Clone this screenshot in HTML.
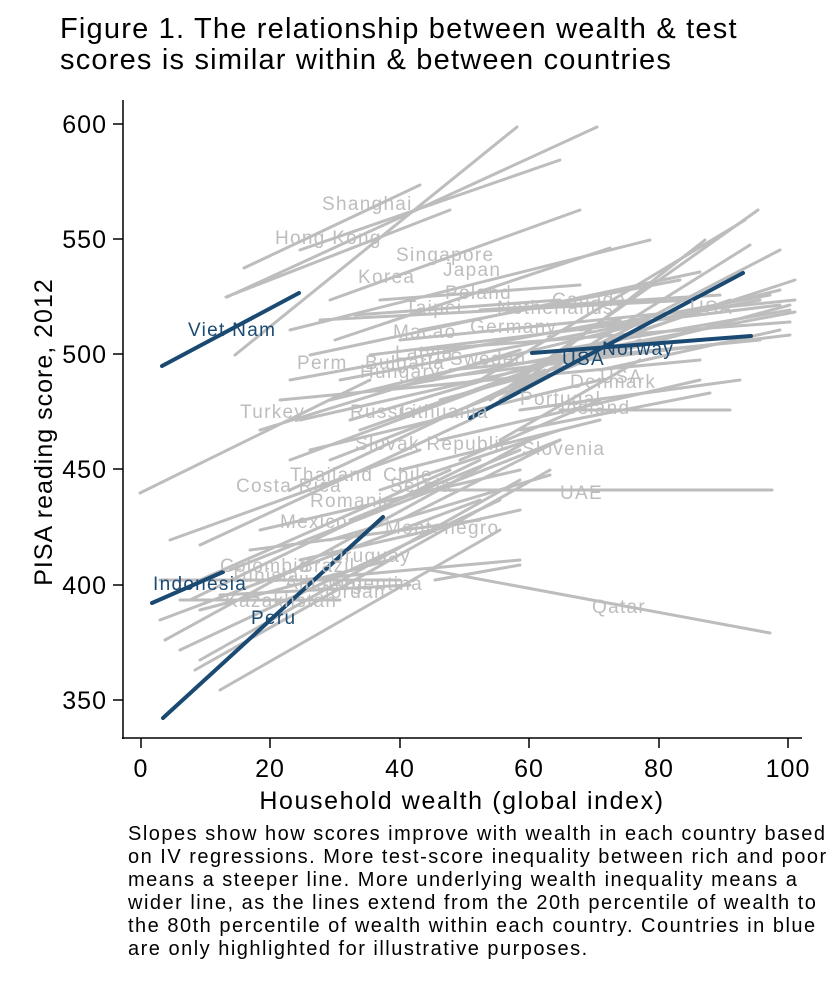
<!DOCTYPE html>
<html><head><meta charset="utf-8"><style>
html,body{margin:0;padding:0;background:#fff;}
body{width:833px;height:1000px;overflow:hidden;position:relative;font-family:"Liberation Sans",Arial,sans-serif;}
.t{position:absolute;left:60px;top:14px;font-size:29px;line-height:31px;color:#000;letter-spacing:1.2px;white-space:nowrap;}
.c{position:absolute;left:128px;top:823px;font-size:20px;line-height:23px;color:#000;white-space:nowrap;letter-spacing:1.5px;}
</style></head><body>
<div class="t">Figure 1. The relationship between wealth &amp; test<br>scores is similar within &amp; between countries</div>
<svg width="833" height="1000" style="position:absolute;left:0;top:0" font-family="Liberation Sans, Arial, sans-serif">
<g stroke="#bdbdbd" stroke-width="3" stroke-linecap="round" fill="none">
<line x1="235" y1="355" x2="517" y2="127"/>
<line x1="227" y1="297" x2="597" y2="127"/>
<line x1="244" y1="268" x2="420" y2="185"/>
<line x1="226" y1="297" x2="450" y2="210"/>
<line x1="300" y1="250" x2="560" y2="160"/>
<line x1="330" y1="300" x2="580" y2="210"/>
<line x1="290" y1="330" x2="650" y2="240"/>
<line x1="310" y1="355" x2="700" y2="272"/>
<line x1="335" y1="340" x2="610" y2="248"/>
<line x1="140" y1="493" x2="370" y2="380"/>
<line x1="290" y1="380" x2="620" y2="320"/>
<line x1="355" y1="315" x2="560" y2="300"/>
<line x1="320" y1="320" x2="690" y2="300"/>
<line x1="330" y1="400" x2="780" y2="290"/>
<line x1="340" y1="380" x2="760" y2="300"/>
<line x1="360" y1="430" x2="730" y2="300"/>
<line x1="300" y1="420" x2="700" y2="330"/>
<line x1="370" y1="355" x2="780" y2="305"/>
<line x1="400" y1="340" x2="795" y2="300"/>
<line x1="380" y1="390" x2="795" y2="312"/>
<line x1="420" y1="350" x2="790" y2="322"/>
<line x1="420" y1="380" x2="790" y2="335"/>
<line x1="450" y1="370" x2="760" y2="340"/>
<line x1="440" y1="400" x2="790" y2="305"/>
<line x1="480" y1="380" x2="745" y2="220"/>
<line x1="500" y1="400" x2="705" y2="240"/>
<line x1="470" y1="420" x2="750" y2="245"/>
<line x1="490" y1="400" x2="758" y2="210"/>
<line x1="510" y1="390" x2="780" y2="250"/>
<line x1="520" y1="370" x2="795" y2="280"/>
<line x1="520" y1="410" x2="740" y2="380"/>
<line x1="560" y1="410" x2="730" y2="410"/>
<line x1="520" y1="430" x2="710" y2="393"/>
<line x1="280" y1="400" x2="700" y2="360"/>
<line x1="290" y1="460" x2="560" y2="360"/>
<line x1="290" y1="490" x2="545" y2="370"/>
<line x1="310" y1="450" x2="600" y2="380"/>
<line x1="200" y1="545" x2="470" y2="420"/>
<line x1="170" y1="540" x2="420" y2="450"/>
<line x1="200" y1="580" x2="450" y2="470"/>
<line x1="190" y1="600" x2="480" y2="460"/>
<line x1="160" y1="620" x2="480" y2="500"/>
<line x1="165" y1="640" x2="530" y2="440"/>
<line x1="180" y1="650" x2="500" y2="500"/>
<line x1="200" y1="660" x2="520" y2="480"/>
<line x1="195" y1="670" x2="550" y2="470"/>
<line x1="220" y1="690" x2="500" y2="530"/>
<line x1="230" y1="570" x2="560" y2="440"/>
<line x1="250" y1="550" x2="480" y2="520"/>
<line x1="260" y1="530" x2="520" y2="470"/>
<line x1="220" y1="595" x2="410" y2="585"/>
<line x1="160" y1="580" x2="400" y2="580"/>
<line x1="200" y1="610" x2="390" y2="560"/>
<line x1="180" y1="600" x2="340" y2="600"/>
<line x1="300" y1="560" x2="520" y2="510"/>
<line x1="300" y1="580" x2="520" y2="560"/>
<line x1="330" y1="540" x2="550" y2="475"/>
<line x1="350" y1="520" x2="520" y2="450"/>
<line x1="380" y1="490" x2="560" y2="430"/>
<line x1="400" y1="470" x2="600" y2="420"/>
<line x1="420" y1="490" x2="772" y2="490"/>
<line x1="430" y1="570" x2="770" y2="633"/>
<line x1="435" y1="580" x2="520" y2="565"/>
<line x1="400" y1="520" x2="560" y2="440"/>
<line x1="440" y1="440" x2="700" y2="380"/>
<line x1="460" y1="460" x2="600" y2="400"/>
<line x1="500" y1="440" x2="640" y2="360"/>
<line x1="480" y1="310" x2="720" y2="295"/>
<line x1="560" y1="350" x2="790" y2="310"/>
<line x1="580" y1="330" x2="770" y2="295"/>
<line x1="600" y1="370" x2="780" y2="330"/>
<line x1="380" y1="300" x2="580" y2="285"/>
<line x1="420" y1="330" x2="680" y2="280"/>
<line x1="350" y1="420" x2="620" y2="340"/>
<line x1="260" y1="430" x2="520" y2="350"/>
<line x1="330" y1="460" x2="640" y2="340"/>
</g>
<g stroke="#1a4a72" stroke-width="4" stroke-linecap="round">
<line x1="162" y1="366" x2="299" y2="293"/>
<line x1="152" y1="603" x2="223" y2="572"/>
<line x1="163" y1="718" x2="383" y2="517"/>
<line x1="470" y1="418" x2="743" y2="273"/>
<line x1="532" y1="353" x2="751" y2="336"/>
</g>
<g fill="#bdbdbd" font-size="19" letter-spacing="1.3">
<text x="322" y="210">Shanghai</text>
<text x="275" y="244">Hong Kong</text>
<text x="396" y="261">Singapore</text>
<text x="443" y="276">Japan</text>
<text x="358" y="283">Korea</text>
<text x="445" y="299">Poland</text>
<text x="405" y="314">Taipei</text>
<text x="497" y="314">Netherlands</text>
<text x="552" y="306">Canada</text>
<text x="690" y="314">USA</text>
<text x="393" y="338">Macao</text>
<text x="470" y="333">Germany</text>
<text x="395" y="359">Latvia</text>
<text x="297" y="369">Perm</text>
<text x="365" y="369">Bulgaria</text>
<text x="360" y="378">Hungary</text>
<text x="450" y="365">Sweden</text>
<text x="600" y="383">USA</text>
<text x="570" y="388">Denmark</text>
<text x="240" y="418">Turkey</text>
<text x="350" y="418">Russia</text>
<text x="400" y="418">Lithuania</text>
<text x="520" y="405">Portugal</text>
<text x="560" y="414">Iceland</text>
<text x="355" y="450">Slovak Republic</text>
<text x="522" y="455">Slovenia</text>
<text x="290" y="481">Thailand</text>
<text x="383" y="481">Chile</text>
<text x="236" y="492">Costa Rica</text>
<text x="390" y="492">Serbia</text>
<text x="310" y="507">Romania</text>
<text x="560" y="499">UAE</text>
<text x="280" y="528">Mexico</text>
<text x="385" y="534">Montenegro</text>
<text x="330" y="562">Uruguay</text>
<text x="220" y="572">Colombia</text>
<text x="300" y="572">Brazil</text>
<text x="230" y="582">Tunisia</text>
<text x="285" y="589">Albania</text>
<text x="330" y="590">Argentina</text>
<text x="225" y="607">Kazakhstan</text>
<text x="320" y="598">Jordan</text>
<text x="592" y="613">Qatar</text>
</g>
<g fill="#1a4a72" font-size="19" letter-spacing="1.3">
<text x="188" y="336">Viet Nam</text>
<text x="153" y="590">Indonesia</text>
<text x="251" y="624">Peru</text>
<text x="562" y="365">USA</text>
<text x="602" y="355">Norway</text>
</g>
<g stroke="#000" stroke-width="1.5">
<line x1="123" y1="100" x2="123" y2="739"/>
<line x1="122" y1="738" x2="802" y2="738"/>
<line x1="113" y1="124" x2="123" y2="124"/>
<line x1="113" y1="239" x2="123" y2="239"/>
<line x1="113" y1="354" x2="123" y2="354"/>
<line x1="113" y1="469" x2="123" y2="469"/>
<line x1="113" y1="585" x2="123" y2="585"/>
<line x1="113" y1="700" x2="123" y2="700"/>
<line x1="141" y1="738" x2="141" y2="748"/>
<line x1="270" y1="738" x2="270" y2="748"/>
<line x1="400" y1="738" x2="400" y2="748"/>
<line x1="529" y1="738" x2="529" y2="748"/>
<line x1="659" y1="738" x2="659" y2="748"/>
<line x1="788" y1="738" x2="788" y2="748"/>
</g>
<g font-size="25" fill="#000" text-anchor="end" letter-spacing="1">
<text x="107" y="133">600</text>
<text x="107" y="248">550</text>
<text x="107" y="363">500</text>
<text x="107" y="478">450</text>
<text x="107" y="594">400</text>
<text x="107" y="709">350</text>
</g>
<g font-size="25" fill="#000" text-anchor="middle" letter-spacing="1">
<text x="141" y="777">0</text>
<text x="270" y="777">20</text>
<text x="400" y="777">40</text>
<text x="529" y="777">60</text>
<text x="659" y="777">80</text>
<text x="788" y="777">100</text>
</g>
<g font-size="25" fill="#000" text-anchor="middle">
<text x="462" y="809" letter-spacing="1.6">Household wealth (global index)</text>
<text transform="translate(52,432) rotate(-90)" letter-spacing="1">PISA reading score, 2012</text>
</g>
</svg>
<div class="c">Slopes show how scores improve with wealth in each country based<br>on IV regressions. More test-score inequality between rich and poor<br>means a steeper line. More underlying wealth inequality means a<br>wider line, as the lines extend from the 20th percentile of wealth to<br>the 80th percentile of wealth within each country. Countries in blue<br>are only highlighted for illustrative purposes.</div>
</body></html>
